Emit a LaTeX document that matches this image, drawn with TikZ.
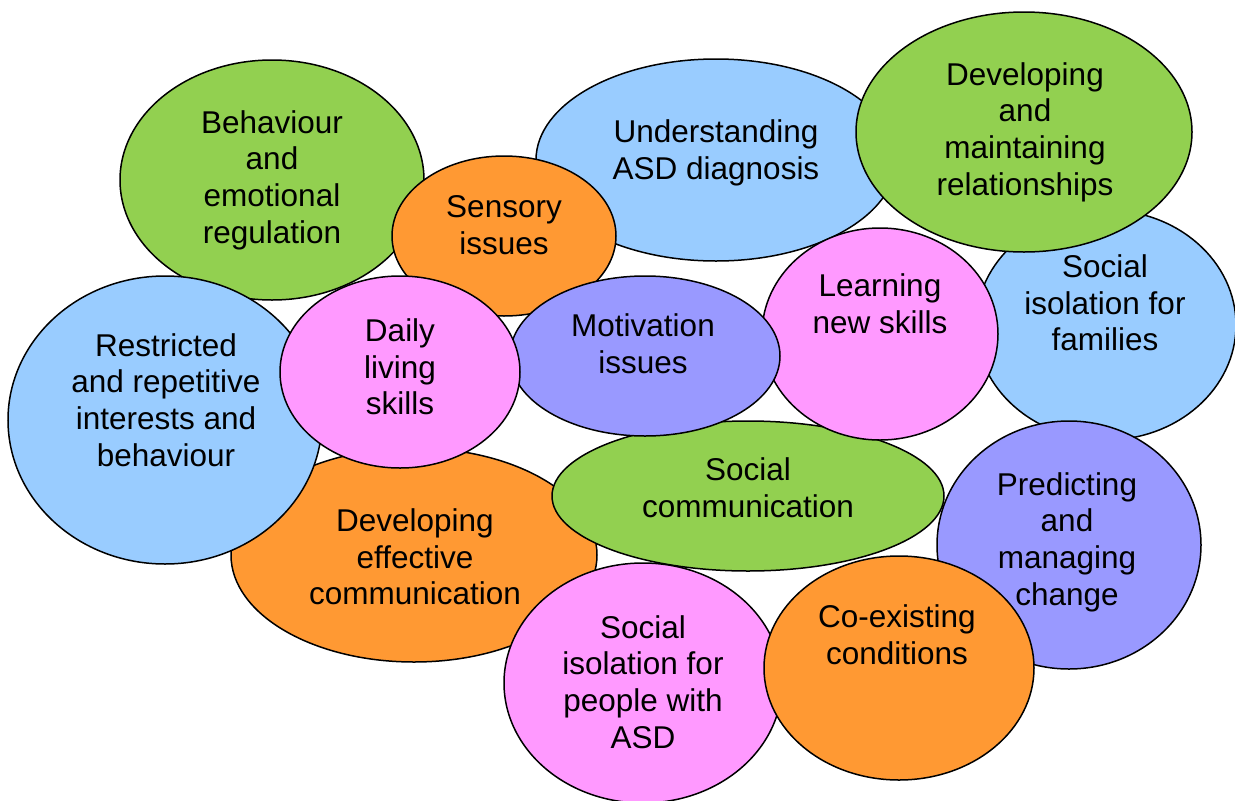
\documentclass[tikz,border=0pt]{standalone}
\usepackage{fontspec}
\setmainfont{Liberation Sans}
\usetikzlibrary{shapes.geometric}
\definecolor{cgreen}{HTML}{92D050}
\definecolor{cblue}{HTML}{99CCFF}
\definecolor{corange}{HTML}{FF9933}
\definecolor{cpink}{HTML}{FF99FF}
\definecolor{cpurple}{HTML}{9999FF}
\tikzset{
  bubble/.style={ellipse, draw=black, line width=1.5pt, inner sep=0pt, outer sep=0pt},
  txt/.style={align=center, inner sep=0pt, font=\fontsize{31.5}{36.7}\selectfont}
}
% name, cx, cy, rx, ry, colour, tx, ty, text
\newcommand\mybubble[9]{%
  \node[bubble, fill=#6, minimum width=#4*2pt, minimum height=#5*2pt] (#1) at (#2,#3) {};
  \node[txt] (#1-t) at (#7,#8) {#9};
}
\begin{document}
\begin{tikzpicture}[x=1pt,y=-1pt]
\useasboundingbox (0,0) rectangle (1235,801);
\mybubble{behav}{272}{180}{152}{120}{cgreen}{272}{180}{Behaviour\\and\\emotional\\regulation}
\mybubble{under}{716}{160}{180}{101}{cblue}{716}{153}{Understanding\\ASD diagnosis}
\mybubble{sens}{504}{236}{112}{80}{corange}{504}{225}{Sensory\\issues}
\mybubble{isofam}{1106}{325}{130}{115}{cblue}{1105}{303}{Social\\isolation for\\families}
\mybubble{devrel}{1024}{132}{168}{120}{cgreen}{1025}{132}{Developing\\and\\maintaining\\relationships}
\mybubble{deveff}{414}{555}{183}{107}{corange}{415}{557}{Developing\\effective\\communication}
\mybubble{restr}{165}{420}{157}{144}{cblue}{166}{400}{Restricted\\and repetitive\\interests and\\behaviour}
\mybubble{soccom}{748}{496}{196}{75}{cgreen}{748}{488}{Social\\communication}
\mybubble{learn}{880}{334}{118}{106}{cpink}{880}{304}{Learning\\new skills}
\mybubble{motiv}{645}{356}{135}{80}{cpurple}{643}{344}{Motivation\\issues}
\mybubble{daily}{400}{372}{120}{96}{cpink}{400}{367}{Daily\\living\\skills}
\mybubble{isopeo}{643}{683}{139}{120}{cpink}{643}{682}{Social\\isolation for\\people with\\ASD}
\mybubble{pred}{1069}{545}{132}{124}{cpurple}{1067}{542}{Predicting\\and\\managing\\change}
\mybubble{coex}{899}{668}{135}{112}{corange}{897}{635}{Co-existing\\conditions}
\end{tikzpicture}
\end{document}
